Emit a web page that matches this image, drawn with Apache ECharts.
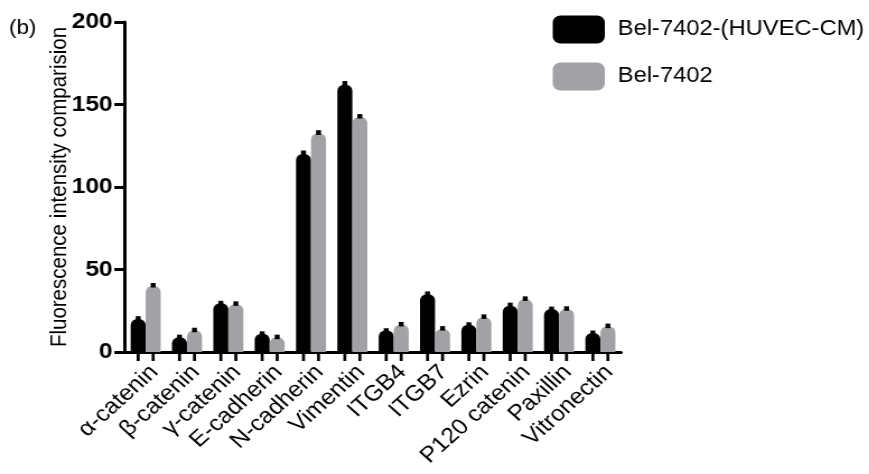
<!DOCTYPE html>
<html><head><meta charset="utf-8">
<script src="https://cdn.jsdelivr.net/npm/echarts@6/dist/echarts.min.js"></script>
<style>html,body{margin:0;padding:0;background:#fff;overflow:hidden}
#wrap{width:869px;height:474px;overflow:hidden}
#c{width:776px;height:474px;transform:scaleX(1.12);transform-origin:0 0}</style>
</head><body><div id="wrap"><div id="c"></div></div>
<script>
const categories = ['α-catenin','β-catenin','γ-catenin','E-cadherin','N-cadherin','Vimentin','ITGB4','ITGB7','Ezrin','P120 catenin','Paxillin','Vitronectin'];
const huvecValues = [20, 9, 29.5, 11, 120, 162, 13, 35, 16.5, 28, 26, 11.5];
const huvecErr = [0.8, 0.6, 0.6, 0.6, 1.2, 1.3, 0.5, 0.8, 0.6, 1.0, 0.6, 0.6];
const belValues = [40, 13, 29, 9, 132.5, 142.5, 16.5, 14, 21, 32, 26, 15.5];
const belErr = [0.9, 0.8, 0.8, 0.6, 1.0, 0.8, 0.8, 0.8, 0.9, 0.8, 0.8, 0.8];
const yTicks = [0, 50, 100, 150, 200];
const seriesNames = ['Bel-7402-(HUVEC-CM)', 'Bel-7402'];

const FONT = '"Liberation Sans", Arial, sans-serif';
const BW = 13.4;
const chart = echarts.init(document.getElementById('c'));

function errRender(vals, errs, off) {
  return function (params, api) {
    const i = api.value(0);
    const hi = api.coord([i, vals[i] + errs[i]]);
    const lo = api.coord([i, vals[i] - errs[i]]);
    const x = hi[0] + off;
    return {type: 'rect', shape: {x: x - 2.2, y: hi[1] - 1.5, width: 4.4, height: Math.max(lo[1] - hi[1], 3) + 1.5}, style: {fill: '#000'}};
  };
}

chart.setOption({
  animation: false,
  textStyle: {fontFamily: FONT},
  graphic: [{type: 'text', left: 8, top: 18, style: {text: '(b)', fontSize: 20, fontFamily: FONT, fill: '#000'}}],
  legend: {
    orient: 'vertical', left: 493.5, top: 15.5, padding: 0,
    itemWidth: 46.5, itemHeight: 28, itemGap: 19,
    icon: 'roundRect',
    textStyle: {fontSize: 21.2, color: '#000', fontFamily: FONT, padding: [0, 0, 0, 6.5]},
    data: seriesNames
  },
  grid: {left: 111.6, right: 221.5, top: 22, bottom: 122, containLabel: false},
  xAxis: {
    type: 'category', data: categories,
    axisLine: {lineStyle: {color: '#000', width: 3}},
    axisTick: {show: false},
    axisLabel: {rotate: 45, interval: 0, fontSize: 22, color: '#000', margin: 9, verticalAlign: 'top', fontFamily: FONT}
  },
  yAxis: {
    type: 'value', min: 0, max: 200, interval: 50,
    name: 'Fluorescence intensity comparision', nameLocation: 'middle', nameGap: 48, nameMoveOverlap: false,
    nameTextStyle: {fontSize: 20.5, color: '#000', fontFamily: FONT},
    splitLine: {show: false},
    axisLine: {show: true, lineStyle: {color: '#000', width: 3}},
    axisTick: {show: true, length: 9.5, lineStyle: {color: '#000', width: 3}},
    axisLabel: {fontSize: 22, fontWeight: 'bold', color: '#000', margin: 11, fontFamily: FONT,
      customValues: yTicks}
  },
  series: [
    {name: seriesNames[0], type: 'bar', data: huvecValues, barWidth: BW, barGap: '0%',
      itemStyle: {color: '#000', borderRadius: [6, 6, 0, 0]}},
    {name: seriesNames[1], type: 'bar', data: belValues, barWidth: BW, barGap: '0%',
      itemStyle: {color: '#a2a2a6', borderRadius: [6, 6, 0, 0]}},
    {type: 'custom', data: categories.map((c, i) => [i]), renderItem: errRender(huvecValues, huvecErr, -BW / 2), z: 5, silent: true},
    {type: 'custom', data: categories.map((c, i) => [i]), renderItem: errRender(belValues, belErr, BW / 2), z: 5, silent: true},
    {type: 'custom', data: categories.map((c, i) => [i]), clip: false, silent: true, z: 6,
      renderItem: function (params, api) {
        const p = api.coord([api.value(0), 0]);
        return {type: 'group', children: [-BW / 2, BW / 2].map(o => ({
          type: 'line', shape: {x1: p[0] + o, y1: p[1], x2: p[0] + o, y2: p[1] + 9},
          style: {stroke: '#000', lineWidth: 2.7}
        }))};
      }}
  ]
});
</script></body></html>
